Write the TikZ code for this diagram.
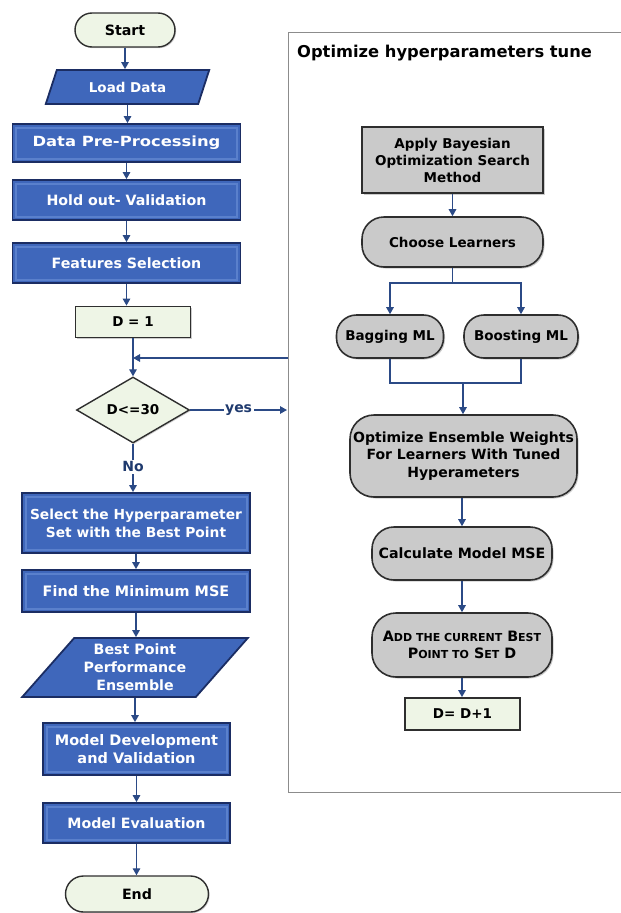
\documentclass[tikz,border=0pt]{standalone}
\usepackage{fontspec}
\setmainfont{DejaVu Sans}
\newfontfamily\widefont{DejaVu Sans}[FakeStretch=1.17]
\usetikzlibrary{shapes.geometric,shadows,arrows.meta}

\definecolor{boxblue}{HTML}{3F67BB}
\definecolor{boxedge}{HTML}{1B2D63}
\definecolor{boxhi}{HTML}{5A80CC}
\definecolor{termfill}{HTML}{EEF5E6}
\definecolor{greyfill}{HTML}{CACACA}
\definecolor{darkline}{HTML}{2E2E2E}
\definecolor{arrowblue}{HTML}{2B4A86}
\definecolor{labelblue}{HTML}{1F3A6E}
\definecolor{framec}{HTML}{8C8C8C}

% small capitals drawn with a smaller size
\newcommand{\smc}[1]{{\fontsize{11}{12}\selectfont #1}}

\tikzset{
  base/.style={font=\bfseries\fontsize{14.2}{18}\selectfont, align=center, inner sep=0pt},
  bluebox/.style={base, rectangle, fill=boxblue, draw=boxedge, line width=1.8pt, text=white,
    path picture={\draw[boxhi, line width=2pt]
      ([shift={(3.5pt,-3.5pt)}]path picture bounding box.north west) rectangle
      ([shift={(-3.5pt,3.5pt)}]path picture bounding box.south east);}},
  bluepar/.style={base, trapezium, trapezium stretches=true, fill=boxblue, draw=boxedge,
    line width=1.8pt, text=white},
  term/.style={base, rectangle, rounded corners=17pt, fill=termfill, draw=darkline,
    line width=1.4pt, text=black, drop shadow={shadow xshift=1.2pt, shadow yshift=-1.2pt, fill=gray!70}},
  greenbox/.style={base, rectangle, fill=termfill, draw=darkline, line width=1.8pt, text=black,
    drop shadow={shadow xshift=1.2pt, shadow yshift=-1.2pt, fill=gray!80}},
  greybox/.style={base, rectangle, fill=greyfill, draw=darkline, line width=1.6pt, text=black,
    drop shadow={shadow xshift=1.5pt, shadow yshift=-1.5pt, fill=gray!80}},
  greypill/.style={greybox, rounded corners=#1},
  arr/.style={draw=arrowblue, line width=1.3pt, -{Triangle[length=7pt,width=7.5pt]}},
  ln/.style={draw=arrowblue, line width=1.3pt},
  flowlabel/.style={font=\bfseries\fontsize{14}{16}\selectfont, text=labelblue, fill=white, inner sep=1.5pt}
}

\begin{document}
\begin{tikzpicture}[x=1pt, y=-1pt]
\useasboundingbox (0,0) rectangle (621,913);

% ---------- main column ----------
\node[term, minimum width=100pt, minimum height=34pt] (start) at (125,30) {Start};
\node[bluepar, font=\bfseries\fontsize{13.5}{16}\selectfont, trapezium left angle=60, trapezium right angle=120,
      minimum width=165pt, minimum height=34pt] (load) at (127.5,87) {Load Data};
\node[bluebox, font=\widefont\bfseries\fontsize{14}{18}\selectfont, minimum width=228pt, minimum height=38pt] (dpp) at (126.5,143) {Data Pre-Processing};
\node[bluebox, minimum width=228pt, minimum height=40pt] (hold) at (126.5,200) {Hold out- Validation};
\node[bluebox, minimum width=228pt, minimum height=40pt] (feat) at (126.5,263) {Features Selection};
\node[greenbox, font=\bfseries\fontsize{13.5}{16}\selectfont, minimum width=115pt, minimum height=31pt] (d1) at (133,322) {D = 1};
\node[base, font=\bfseries\fontsize{13.5}{16}\selectfont, diamond, fill=termfill, draw=darkline, line width=1.4pt, aspect=1.7,
      minimum width=113pt, minimum height=66pt,
      drop shadow={shadow xshift=1.2pt, shadow yshift=-1.2pt, fill=gray!70}] (dia) at (133,410) {D<=30};
\node[bluebox, font=\bfseries\fontsize{13.8}{18.3}\selectfont, minimum width=228pt, minimum height=60pt] (sel) at (136,523)
  {Select the Hyperparameter\\Set with the Best Point};
\node[bluebox, font=\bfseries\fontsize{14.4}{18}\selectfont, minimum width=228pt, minimum height=42pt] (find) at (136,591) {Find the Minimum MSE};
\node[bluepar, trapezium left angle=47, trapezium right angle=133,
      minimum width=226pt, minimum height=59pt] (best) at (135,667.5)
  {Best Point\\Performance\\Ensemble};
\node[bluebox, font=\bfseries\fontsize{14.5}{18}\selectfont, minimum width=187pt, minimum height=52pt] (dev) at (136.5,749)
  {Model Development\\and Validation};
\node[bluebox, minimum width=187pt, minimum height=40pt] (eval) at (136.5,823) {Model Evaluation};
\node[term, rounded corners=18pt, minimum width=143pt, minimum height=36pt] (end) at (137,894) {End};

% ---------- tuning frame ----------
\draw[framec, line width=1pt] (621,32) -- (288,32) -- (288,792) -- (621,792);
\node[base, font=\bfseries\fontsize{16.3}{18}\selectfont, anchor=west] (title) at (297,53)
  {Optimize hyperparameters tune};

\node[greybox, font=\bfseries\fontsize{13.5}{17}\selectfont, minimum width=181pt, minimum height=66pt] (bayes) at (452.5,160)
  {Apply Bayesian\\Optimization Search\\Method};
\node[greypill=22pt, font=\bfseries\fontsize{13.5}{17}\selectfont, minimum width=181pt, minimum height=50pt] (choose) at (452.5,242) {Choose Learners};
\node[greypill=20pt, font=\bfseries\fontsize{13.5}{17}\selectfont, minimum width=107pt, minimum height=43pt] (bag) at (390,336.5) {Bagging ML};
\node[greypill=20pt, font=\bfseries\fontsize{13.5}{17}\selectfont, minimum width=114pt, minimum height=43pt] (boost) at (521,336.5) {Boosting ML};
\node[greypill=24pt, font=\bfseries\fontsize{14}{17.5}\selectfont, minimum width=227pt, minimum height=82pt] (opt) at (463.5,456)
  {Optimize Ensemble Weights\\For Learners With Tuned\\Hyperameters};
\node[greypill=22pt, minimum width=180pt, minimum height=53pt] (calc) at (462,553.5) {Calculate Model MSE};
\node[greypill=24pt, font=\bfseries\fontsize{14.3}{17.5}\selectfont, minimum width=180pt, minimum height=64pt] (add) at (462,645)
  {A\smc{DD THE CURRENT} B\smc{EST}\\P\smc{OINT TO} S\smc{ET} D};
\node[greenbox, font=\bfseries\fontsize{13.5}{16}\selectfont, minimum width=115pt, minimum height=32pt] (dd) at (462.5,714) {D= D+1};

% ---------- connectors, main column ----------
\draw[arr] (start.south) -- (start.south |- load.north);
\draw[arr] (load.south) -- (load.south |- dpp.north);
\draw[arr] (dpp.south) -- (dpp.south |- hold.north);
\draw[arr] (hold.south) -- (hold.south |- feat.north);
\draw[arr] (feat.south) -- (feat.south |- d1.north);
\draw[arr] (d1.south) -- (dia.north);

\coordinate (fb) at (288,358);
\coordinate (join) at (dia.north |- fb);
\draw[arr] (fb) -- (join);

\coordinate (yesend) at (287,410);
\draw[arr] (dia.east) -- node[flowlabel] (yes) {yes} (yesend);
\draw[arr] (dia.south) -- node[flowlabel, pos=0.48] (no) {No} (dia.south |- sel.north);

\draw[arr] (sel.south) -- (sel.south |- find.north);
\draw[arr] (find.south) -- (find.south |- best.north);
\draw[arr] (best.south) -- (best.south |- dev.north);
\draw[arr] (dev.south) -- (dev.south |- eval.north);
\draw[arr] (eval.south) -- (eval.south |- end.north);

% ---------- connectors, tuning frame ----------
\draw[arr] (bayes.south) -- (choose.north);
\coordinate (split) at (452.5,283);
\coordinate (merge) at (463,383);
\draw[ln] (choose.south) -- (split);
\draw[arr] (split) -| (bag.north);
\draw[arr] (split) -| (boost.north);
\draw[ln] (bag.south) |- (merge);
\draw[ln] (boost.south) |- (merge);
\draw[arr] (merge) -- (merge |- opt.north);
\draw[arr] (opt.south -| calc.north) -- (calc.north);
\draw[arr] (calc.south) -- (add.north);
\draw[arr] (add.south) -- (add.south |- dd.north);
\end{tikzpicture}
\end{document}
